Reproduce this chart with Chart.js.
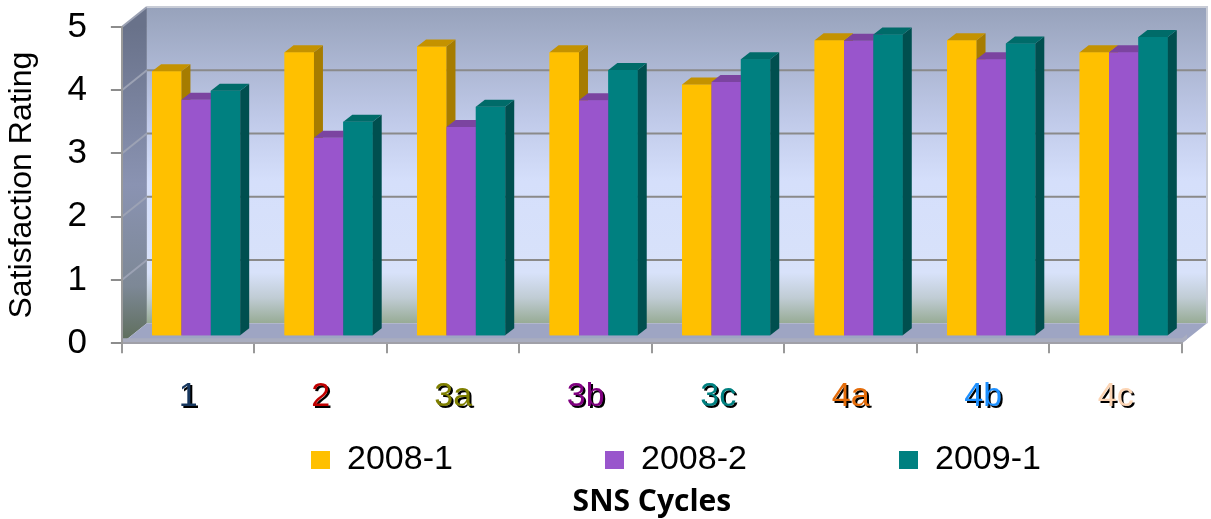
<!DOCTYPE html>
<html lang="en">
<head>
<meta charset="UTF-8">
<title>SNS Cycles</title>
<style>
  body { margin: 0; background: #fff; }
  #wrap { width: 1211px; height: 519px; }
</style>
</head>
<body>
<div id="wrap"><canvas id="myChart"></canvas></div>
<script src="https://cdn.jsdelivr.net/npm/chart.js"></script>
<script>
// data
const cycles = ['1', '2', '3a', '3b', '3c', '4a', '4b', '4c'];
const v2008_1 = [4.19, 4.49, 4.58, 4.49, 3.98, 4.68, 4.68, 4.49];
const v2008_2 = [3.74, 3.14, 3.31, 3.73, 4.02, 4.67, 4.38, 4.49];
const v2009_1 = [3.88, 3.39, 3.63, 4.21, 4.38, 4.77, 4.63, 4.73];
const yTicks = [0, 1, 2, 3, 4, 5];

// colours
const cycleColors = ['#17375E', '#C00000', '#7F7F00', '#800080', '#008080', '#E46C0A', '#1E90FF', '#FCD5B5'];
const frontColors = ['#FFC000', '#9955CC', '#008080'];
const faceColors = [
    {top: '#C49200', side: '#A67C00'},
    {top: '#7B44A0', side: '#6A3592'},
    {top: '#006B69', side: '#004F4F'}
];

// fake 3d depth offsets
const wallDepth = {x: 25, y: -20};
const barShift = {x: 8, y: -7};
const barDepth = {x: 9, y: -7};

function poly(ctx, pts, fill) {
    ctx.beginPath();
    ctx.moveTo(pts[0][0], pts[0][1]);
    for (let i = 1; i < pts.length; i++) ctx.lineTo(pts[i][0], pts[i][1]);
    ctx.closePath();
    ctx.fillStyle = fill;
    ctx.fill();
}

const fake3d = {
    id: 'fake3d',
    afterLayout(chart) {
        // legend sits a bit right of centre in the original
        chart.legend.left += 48;
    },
    beforeDraw(chart) {
        const {ctx, chartArea: a, scales: {x, y}} = chart;
        const dx = wallDepth.x, dy = wallDepth.y;

        // shadowed category labels
        if (!x._shadowed) {
            const orig = x.drawLabels;
            x.drawLabels = function (area) {
                const c = this.ctx;
                c.save();
                c.shadowColor = '#000';
                c.shadowOffsetX = 2;
                c.shadowOffsetY = 2;
                c.shadowBlur = 0;
                orig.call(this, area);
                c.restore();
            };
            x._shadowed = true;
        }

        ctx.save();
        // back wall
        let g = ctx.createLinearGradient(0, a.top + dy, 0, a.bottom + dy);
        g.addColorStop(0, '#97A2BB');
        g.addColorStop(0.35, '#BFC9E8');
        g.addColorStop(0.55, '#D5DFFB');
        g.addColorStop(0.84, '#D8E2FA');
        g.addColorStop(0.92, '#C0CCD4');
        g.addColorStop(1, '#97AB95');
        ctx.fillStyle = g;
        ctx.fillRect(a.left + dx, a.top + dy, a.width, a.height);

        // side wall
        g = ctx.createLinearGradient(0, a.top, 0, a.bottom);
        g.addColorStop(0, '#69728A');
        g.addColorStop(0.5, '#8A93B2');
        g.addColorStop(0.82, '#7D8896');
        g.addColorStop(1, '#5D6D59');
        poly(ctx, [[a.left, a.top], [a.left + dx, a.top + dy], [a.left + dx, a.bottom + dy], [a.left, a.bottom]], g);

        // floor
        poly(ctx, [[a.left, a.bottom], [a.left + dx, a.bottom + dy], [a.right + dx, a.bottom + dy], [a.right, a.bottom]], '#9EA5C3');
        poly(ctx, [[a.left, a.bottom - 5], [a.right, a.bottom - 5], [a.right + 5, a.bottom - 9], [a.right + 5, a.bottom - 4], [a.right, a.bottom], [a.left, a.bottom]], '#A9ADBF');

        // grid lines on the walls
        ctx.lineWidth = 2;
        yTicks.forEach(v => {
            if (v === 0) return;
            const py = y.getPixelForValue(v);
            ctx.strokeStyle = '#8A8A8A';
            ctx.beginPath();
            ctx.moveTo(a.left + dx, py + dy);
            ctx.lineTo(a.right + dx, py + dy);
            ctx.stroke();
            ctx.strokeStyle = '#9CA2B4';
            ctx.beginPath();
            ctx.moveTo(a.left, py);
            ctx.lineTo(a.left + dx, py + dy);
            ctx.stroke();
        });
        ctx.strokeStyle = '#C8CCD6';
        ctx.beginPath();
        ctx.moveTo(a.left + dx, a.top + dy);
        ctx.lineTo(a.right + dx, a.top + dy);
        ctx.lineTo(a.right + dx, a.bottom + dy);
        ctx.stroke();
        ctx.restore();
    },
    beforeDatasetsDraw(chart) {
        chart.ctx.save();
        chart.ctx.translate(barShift.x, barShift.y);
    },
    afterDatasetsDraw(chart) {
        const ctx = chart.ctx;
        const metas = chart.data.datasets.map((d, i) => chart.getDatasetMeta(i));
        // left to right so each front face hides the side face before it
        for (let j = 0; j < cycles.length; j++) {
            metas.forEach((meta, k) => {
                const bar = meta.data[j];
                const {x, y, base, width} = bar.getProps(['x', 'y', 'base', 'width'], true);
                const l = x - width / 2, r = x + width / 2;
                bar.draw(ctx);
                poly(ctx, [[r, y], [r + barDepth.x, y + barDepth.y], [r + barDepth.x, base + barDepth.y], [r, base]], faceColors[k].side);
                poly(ctx, [[l, y], [l + barDepth.x, y + barDepth.y], [r + barDepth.x, y + barDepth.y], [r, y]], faceColors[k].top);
            });
        }
        ctx.restore();
    }
};

const ctx = document.getElementById('myChart');

new Chart(ctx, {
    type: 'bar',
    data: {
        labels: cycles,
        datasets: [
            {label: '2008-1', data: v2008_1, backgroundColor: frontColors[0], borderWidth: 0, clip: false},
            {label: '2008-2', data: v2008_2, backgroundColor: frontColors[1], borderWidth: 0, clip: false},
            {label: '2009-1', data: v2009_1, backgroundColor: frontColors[2], borderWidth: 0, clip: false}
        ]
    },
    options: {
        responsive: true,
        maintainAspectRatio: false,
        animation: false,
        categoryPercentage: 0.665,
        barPercentage: 1,
        layout: {padding: {top: 27, right: 29, bottom: 0, left: 0}},
        scales: {
            x: {
                grid: {drawOnChartArea: false, offset: true, tickLength: 10, color: '#999', lineWidth: 2},
                border: {display: true, color: '#A0A0A8', width: 2},
                ticks: {
                    padding: 23,
                    font: {family: 'Liberation Sans', size: 34},
                    color: cycleColors
                },
                afterFit(scale) { scale.height += 2; }
            },
            y: {
                min: yTicks[0],
                max: yTicks[yTicks.length - 1],
                grid: {drawOnChartArea: false, tickLength: 11, color: '#8C8C8C', lineWidth: 2},
                border: {display: true, color: '#9A9A9A', width: 2},
                ticks: {
                    stepSize: 1,
                    padding: 24,
                    font: {family: 'Liberation Sans', size: 35},
                    color: '#000'
                },
                title: {
                    display: true,
                    text: 'Satisfaction Rating',
                    font: {family: 'Liberation Sans', size: 32},
                    color: '#000',
                    padding: {top: 3, bottom: 2}
                },
                // tick padding should not push the plot down from the top
                afterFit(scale) {
                    scale.paddingTop = 21;
                    scale.paddingBottom = 21;
                }
            }
        },
        plugins: {
            legend: {
                position: 'bottom',
                fullSize: false,
                labels: {
                    boxWidth: 19,
                    boxHeight: 18,
                    padding: 1,
                    color: '#000',
                    font: {family: 'Liberation Sans', size: 34},
                    generateLabels(chart) {
                        const items = Chart.defaults.plugins.legend.labels.generateLabels(chart);
                        items.forEach((it, i) => {
                            if (i < items.length - 1) it.text = it.text + ' '.repeat(16);
                        });
                        return items;
                    }
                }
            },
            title: {
                display: true,
                position: 'bottom',
                fullSize: false,
                text: 'SNS Cycles',
                color: '#000',
                font: {family: 'Open Sans', size: 30, weight: 'bold', lineHeight: 1.0},
                padding: {top: 0, bottom: 2}
            },
            tooltip: {enabled: false}
        }
    },
    plugins: [fake3d]
});
</script>
</body>
</html>
